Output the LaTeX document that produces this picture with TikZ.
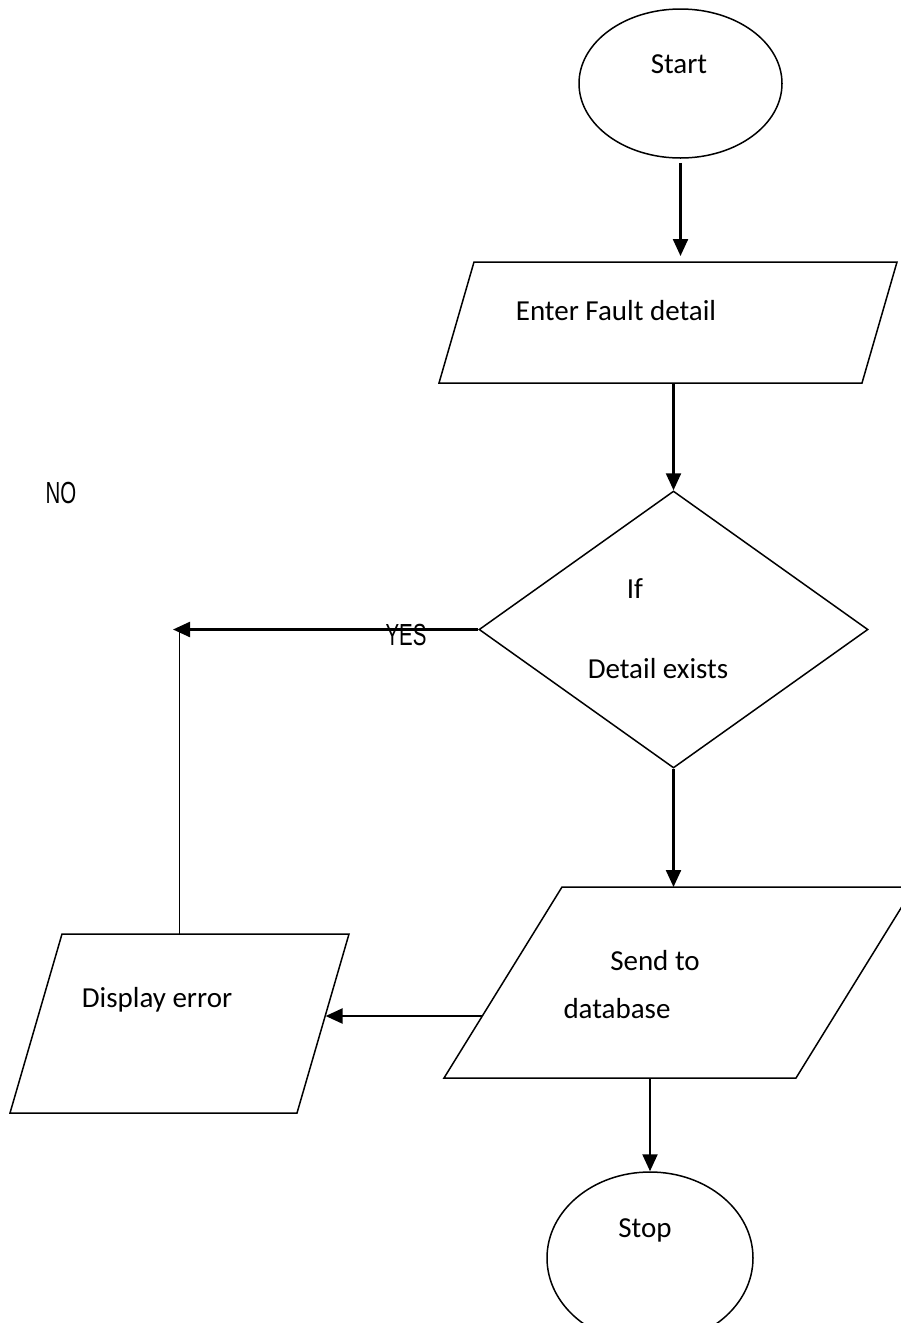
\documentclass[tikz,border=0pt]{standalone}
\usepackage{fontspec}
\setmainfont{Carlito}
\newfontfamily\narrowfont[FakeStretch=0.67]{Liberation Sans}
\usepackage{tikz}
\usetikzlibrary{arrows.meta}
\usetikzlibrary{shapes.geometric}

\begin{document}
\begin{tikzpicture}[x=1pt, y=-1pt,
		outline/.style={line width=1.5pt},
		flowline/.style={line width=1.5pt},
		flowarrow/.style={line width=2.3pt, -{Triangle[length=17pt, width=15pt]}},
		terminal/.style={ellipse, draw, line width=1.5pt, inner sep=0pt},
		inout/.style={rectangle, inner sep=0pt, outer sep=0pt},
		decision/.style={diamond, draw, line width=1.5pt, inner sep=0pt},
		lbl/.style={anchor=base, font=\fontsize{29}{35}\selectfont},
		narrowlbl/.style={anchor=base, font=\narrowfont\fontsize{30.5}{36}\selectfont}]
	\useasboundingbox (0,0) rectangle (900,1323);
	\node[terminal, minimum width=203pt, minimum height=149pt] (start) at (680.5,83.5) {};
	\node[inout, minimum width=458pt, minimum height=121pt] (enter) at (668,322.5) {};
	\node[decision, minimum width=389pt, minimum height=277pt] (diamond) at (673.5,629.5) {};
	\node[inout, minimum width=470pt, minimum height=191pt] (send) at (679,982.5) {};
	\node[inout, minimum width=339pt, minimum height=179pt] (error) at (179.5,1023.5) {};
	\node[terminal, minimum width=206pt, minimum height=172pt] (stop) at (650,1258) {};
	\draw[outline] ([xshift=35pt]enter.north west) -- (enter.north east) -- ([xshift=-35pt]enter.south east) -- (enter.south west) -- cycle;
	\draw[outline] ([xshift=118pt]send.north west) -- (send.north east) -- ([xshift=-118pt]send.south east) -- (send.south west) -- cycle;
	\draw[outline] ([xshift=52pt]error.north west) -- (error.north east) -- ([xshift=-52pt]error.south east) -- (error.south west) -- cycle;
	\coordinate (yesend) at (173,629.5);
	\coordinate (sendside) at ([shift={(38.3pt,62pt)}]send.south west);
	\coordinate (errorside) at ([xshift=-23.4pt]error.east);
	\draw[flowarrow, shorten <=4pt, shorten >=6pt] (start.south) -- (start.south |- enter.north);
	\draw[flowarrow] (diamond.north |- enter.south) -- (diamond.north);
	\draw[flowarrow] (diamond.south) -- (diamond.south |- send.north);
	\draw[flowarrow] (stop.north |- send.south) -- (stop.north);
	\draw[flowarrow] (diamond.west) -- (yesend);
	\draw[flowline] (error.north) -- (error.north |- yesend);
	\draw[flowarrow] (sendside) -- (sendside -| errorside);
	\node[lbl] (starttext) at (679,73) {Start};
	\node[lbl] (entertext) at (616,320) {Enter Fault detail};
	\node[lbl] (iftext) at (635,598) {If};
	\node[lbl] (existstext) at (658,678) {Detail exists};
	\node[lbl] (sendtext) at (655,970) {Send to};
	\node[lbl] (dbtext) at (617,1018) {database};
	\node[lbl] (errortext) at (157,1007) {Display error};
	\node[lbl] (stoptext) at (645,1237) {Stop};
	\node[narrowlbl] (yestext) at (406,645) {YES};
	\node[narrowlbl] (notext) at (61,503) {NO};
\end{tikzpicture}
\end{document}
